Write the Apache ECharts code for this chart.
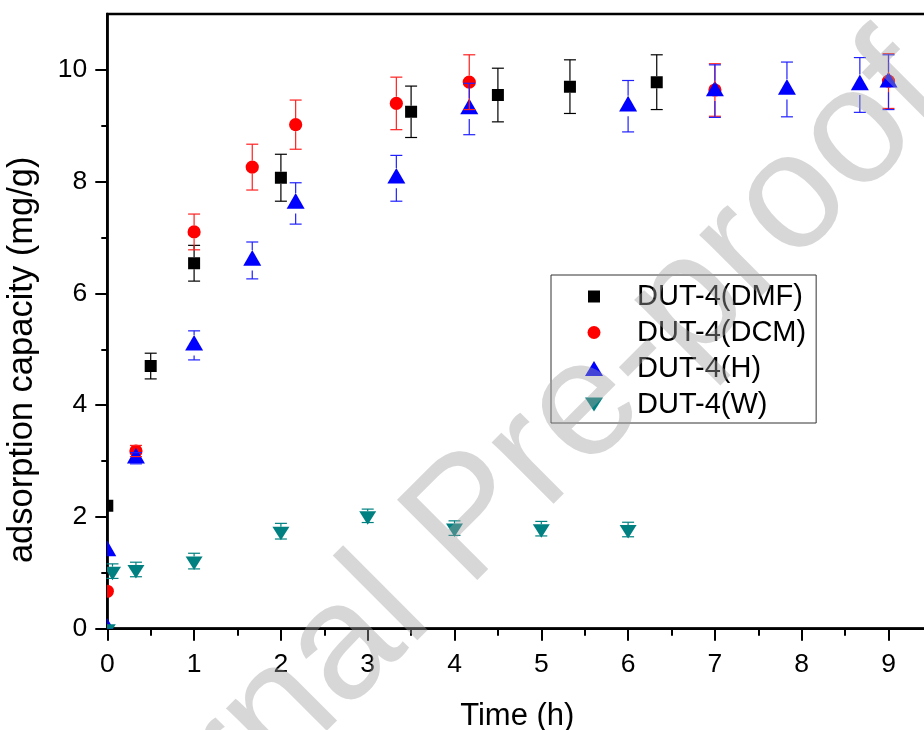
<!DOCTYPE html>
<html><head><meta charset="utf-8">
<script src="https://cdn.jsdelivr.net/npm/echarts@6/dist/echarts.min.js"></script>
<style>html,body{margin:0;padding:0;background:#fff}#c{width:924px;height:730px}</style>
</head><body><div id="c"></div>
<script>
// ---- data ----
const dmfTime = [0, 0.5, 1, 2, 3.5, 4.5, 5.33, 6.33];
const dmfVal  = [2.2, 4.7, 6.54, 8.07, 9.25, 9.55, 9.70, 9.78];
const dmfErr  = [0, 0.23, 0.32, 0.42, 0.46, 0.48, 0.48, 0.49];

const dcmTime = [0, 0.33, 1, 1.67, 2.17, 3.33, 4.17, 7, 9];
const dcmVal  = [0.67, 3.18, 7.1, 8.26, 9.02, 9.40, 9.78, 9.64, 9.80];
const dcmErr  = [0, 0.1, 0.32, 0.41, 0.44, 0.47, 0.49, 0.47, 0.49];

const hTime = [0, 0, 0.33, 1, 1.67, 2.17, 3.33, 4.17, 6, 7, 7.83, 8.67, 9];
const hVal  = [0, 1.39, 3.05, 5.07, 6.59, 7.61, 8.06, 9.30, 9.35, 9.62, 9.65, 9.73, 9.78];
const hErr  = [0, 0, 0.1, 0.26, 0.33, 0.37, 0.41, 0.46, 0.46, 0.47, 0.49, 0.49, 0.49];

const wTime = [0, 0.06, 0.33, 1, 2, 3, 4, 5, 6];
const wVal  = [0, 1.03, 1.06, 1.21, 1.745, 2.02, 1.80, 1.79, 1.775];
const wErr  = [0, 0.13, 0.13, 0.14, 0.14, 0.12, 0.13, 0.13, 0.13];

const seriesNames = ['DUT-4(DMF)', 'DUT-4(DCM)', 'DUT-4(H)', 'DUT-4(W)'];
const xAxisMin = 0, xAxisMax = 10, xStep = 1;   // axis is cut by the picture edge at ~9.41
const yAxisMin = 0, yAxisMax = 11, yStep = 2;
const yTickVals = [0, 2, 4, 6, 8, 10];

// ---- build ----
const FONT = '"Liberation Sans", Arial, sans-serif';
const zip = (t, v, e) => t.map((x, i) => [x, v[i], e[i]]);

const groups = [
  {name: seriesNames[0], data: zip(dmfTime, dmfVal, dmfErr), color: '#000000', bar: '#000000', shape: 'square', gap: [6, 6]},
  {name: seriesNames[1], data: zip(dcmTime, dcmVal, dcmErr), color: '#ff0000', bar: '#ff2020', shape: 'circle', gap: [6.6, 6.6]},
  {name: seriesNames[2], data: zip(hTime, hVal, hErr), color: '#0000ff', bar: '#2020ff', shape: 'up', gap: [10.4, 10]},
  {name: seriesNames[3], data: zip(wTime, wVal, wErr), color: '#008080', bar: '#008080', shape: 'down', gap: [4.5, 9]}
];

function markerRender(shape, color) {
  return function (params, api) {
    const p = api.coord([api.value(0), api.value(1)]);
    const x = p[0], y = p[1];
    if (shape === 'square') return {type: 'rect', shape: {x: x - 6, y: y - 6, width: 12, height: 12}, style: {fill: color}};
    if (shape === 'circle') return {type: 'circle', shape: {cx: x, cy: y, r: 6.6}, style: {fill: color}};
    if (shape === 'up') return {type: 'polygon', shape: {points: [[x, y - 10.4], [x + 9, y + 5.2], [x - 9, y + 5.2]]}, style: {fill: color}};
    return {type: 'polygon', shape: {points: [[x - 8.5, y - 4.5], [x + 8.5, y - 4.5], [x, y + 9]]}, style: {fill: color}};
  };
}
function errRender(color, gap) {
  return function (params, api) {
    const xv = api.value(0), yv = api.value(1), e = api.value(2);
    if (!e) return null;
    const c = api.coord([xv, yv]);
    const t = api.coord([xv, yv + e]);
    const b = api.coord([xv, yv - e]);
    const st = {stroke: color, lineWidth: 1.2};
    const ch = [
      {type: 'line', shape: {x1: t[0] - 6, y1: t[1], x2: t[0] + 6, y2: t[1]}, style: st},
      {type: 'line', shape: {x1: b[0] - 6, y1: b[1], x2: b[0] + 6, y2: b[1]}, style: st}
    ];
    if (c[1] - gap[0] > t[1]) ch.push({type: 'line', shape: {x1: c[0], y1: t[1], x2: c[0], y2: c[1] - gap[0]}, style: st});
    if (c[1] + gap[1] < b[1]) ch.push({type: 'line', shape: {x1: c[0], y1: c[1] + gap[1], x2: c[0], y2: b[1]}, style: st});
    return {type: 'group', children: ch};
  };
}

const series = [];
groups.forEach(g => {
  series.push({
    type: 'custom', name: g.name, data: g.data, clip: true, z: 2,
    encode: {x: 0, y: 1}, itemStyle: {color: g.color},
    renderItem: markerRender(g.shape, g.color), silent: true
  });
});
groups.forEach(g => {
  series.push({
    type: 'custom', name: g.name + ' err', data: g.data, clip: false, z: 3,
    encode: {x: 0, y: 1}, itemStyle: {color: g.bar},
    renderItem: errRender(g.bar, g.gap), silent: true
  });
});

const axisLineStyle = {color: '#000', width: 2.5};
const option = {
  animation: false,
  backgroundColor: '#fff',
  grid: {left: 107.3, right: -51.3, top: 14, bottom: 101.3, containLabel: false,
    outerBoundsMode: 'none',
    show: true, borderColor: '#000', borderWidth: 2.5, backgroundColor: 'transparent'},
  xAxis: {
    type: 'value', position: 'bottom', min: xAxisMin, max: xAxisMax, interval: xStep,
    axisLine: {show: true, onZero: false, lineStyle: axisLineStyle},
    axisTick: {show: true, length: 12, lineStyle: {color: '#000', width: 2}},
    minorTick: {show: true, splitNumber: 2, length: 7, lineStyle: {color: '#000', width: 2}},
    axisLabel: {show: true, margin: 22, fontSize: 26.5, color: '#000', fontFamily: FONT},
    splitLine: {show: false}, minorSplitLine: {show: false},
    name: 'Time (h)', nameLocation: 'middle', nameGap: 72, nameMoveOverlap: false,
    nameTextStyle: {fontSize: 31, color: '#000', fontFamily: FONT, padding: [0, 48, 0, 0]}
  },
  yAxis: {
    type: 'value', position: 'left', min: yAxisMin, max: yAxisMax, interval: yStep,
    axisLine: {show: true, onZero: false, lineStyle: axisLineStyle},
    axisTick: {show: true, length: 12, customValues: yTickVals, lineStyle: {color: '#000', width: 2}},
    minorTick: {show: true, splitNumber: 2, length: 6, lineStyle: {color: '#000', width: 2}},
    axisLabel: {show: true, margin: 20, fontSize: 26.5, color: '#000', fontFamily: FONT,
      formatter: v => (v % yStep === 0 ? String(v) : '')},
    splitLine: {show: false}, minorSplitLine: {show: false},
    name: 'adsorption capacity (mg/g)', nameLocation: 'middle', nameGap: 67, nameRotate: 90, nameMoveOverlap: false,
    nameTextStyle: {fontSize: 34.5, color: '#000', fontFamily: FONT, padding: [0, 77, 0, 0]}
  },
  legend: {
    orient: 'vertical', left: 551, top: 275,
    padding: [7, 10, 4, 34], itemGap: 7, itemWidth: 18, itemHeight: 16,
    borderColor: '#333', borderWidth: 1, backgroundColor: '#fff',
    selectedMode: false,
    textStyle: {fontSize: 29, color: '#000', fontFamily: FONT, padding: [0, 0, 0, 29]},
    data: [
      {name: seriesNames[0], icon: 'path://M0,0L0,0M16,16L16,16M2,2h12v12h-12z'},
      {name: seriesNames[1], icon: 'path://M0,0L0,0M16,16L16,16M1.5,8a6.5,6.5 0 1,0 13,0a6.5,6.5 0 1,0 -13,0z'},
      {name: seriesNames[2], icon: 'path://M9,0L18,15L0,15Z'},
      {name: seriesNames[3], icon: 'path://M0,0L17,0L8.5,13Z'}
    ]
  },
  graphic: [{
    type: 'text', x: 20.5, y: 972.5, rotation: Math.PI / 4, z: 100, silent: true,
    style: {text: 'Journal Pre-proof', font: '165px "Liberation Sans", Arial, sans-serif',
      fill: 'rgba(160,160,160,0.42)', align: 'left', verticalAlign: 'middle'}
  }],
  series: series
};
const chart = echarts.init(document.getElementById('c'), null, {renderer: 'canvas'});
chart.setOption(option);
</script>
</body></html>
